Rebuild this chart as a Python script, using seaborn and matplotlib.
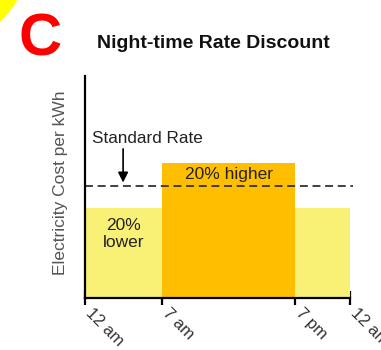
import matplotlib
matplotlib.use("Agg")
import matplotlib.pyplot as plt
from matplotlib.patches import Ellipse
import pandas as pd
import seaborn as sns

# Tariff periods over one day (hour edges) and relative cost per kWh
hour_edges = [0, 7, 19, 24]
period_names = ["night", "day", "evening"]
period_rates = [0.8, 1.2, 0.8]
period_kind = ["off-peak", "peak", "off-peak"]
standard_rate = 1.0
tick_hours = [0, 7, 19, 24]
tick_labels = ["12 am", "7 am", "7 pm", "12 am"]

sns.set_theme(style="white")
plt.rcParams["font.family"] = ["Liberation Sans", "DejaVu Sans"]

df = pd.DataFrame({
    "period": period_names,
    "mid": [(a + b) / 2 for a, b in zip(hour_edges[:-1], hour_edges[1:])],
    "rate": period_rates,
    "kind": period_kind,
})

W, H = 381, 350
fig = plt.figure(figsize=(W / 100, H / 100), dpi=100)
fig.patch.set_facecolor("white")

# Yellow disc peeking in from the top-left corner
r = 82.6
fig.patches.append(Ellipse((-55 / W, 1 + 40 / H), 2 * r / W, 2 * r / H,
                           transform=fig.transFigure, facecolor="#FFFF00",
                           edgecolor="none", figure=fig))

ax = fig.add_axes([85 / W, 1 - 298 / H, 268.3 / W, 222 / H])

sns.histplot(data=df, x="mid", weights="rate", bins=hour_edges, hue="kind",
             palette={"off-peak": "#F9F176", "peak": "#FFBF00"},
             multiple="layer", alpha=1, linewidth=0, legend=False, ax=ax)

ax.set_xlim(0, 24.3)
ax.set_ylim(0, 1.98)

# Standard rate reference line
ax.axhline(standard_rate, color="#333333", lw=1.3, ls=(0, (4.4, 2.6)), xmin=0, xmax=1)

ax.annotate("", xy=(3.45, 1.03), xytext=(3.45, 1.33),
            arrowprops=dict(arrowstyle="-|>", color="black", lw=1.2,
                            mutation_scale=15, shrinkA=0, shrinkB=0))
ax.text(0.6, 1.42, "Standard Rate", fontsize=12.3, color="#222222",
        ha="left", va="center")
ax.text(13, 1.10, "20% higher", fontsize=12.5, color="#222222",
        ha="center", va="center")
ax.text(3.5, 0.57, "20%\nlower", fontsize=12.5, color="#222222",
        ha="center", va="center", linespacing=1.1)

for side in ["top", "right"]:
    ax.spines[side].set_visible(False)
for side in ["left", "bottom"]:
    ax.spines[side].set_color("black")
    ax.spines[side].set_linewidth(1.6)
ax.spines["bottom"].set_bounds(0, 24)

ax.set_xticks(tick_hours)
ax.set_xticklabels(tick_labels, rotation=-45, ha="left", va="baseline",
                   rotation_mode="anchor", fontsize=12, color="#333333")
ax.tick_params(axis="x", direction="inout", length=10, width=1.6, color="black",
               bottom=True, pad=6.5)
ax.set_yticks([])
ax.set_xlabel("")
ax.set_ylabel("Electricity Cost per kWh", fontsize=12.5, color="#555555")
ax.yaxis.set_label_coords(-0.063, 0.52)
ax.set_facecolor("white")

fig.text(62 / W, 1 - 55 / H, "C", fontsize=43, fontweight="bold", color="#FF0000",
         ha="right", va="baseline")
fig.text(213 / W, 1 - 43 / H, "Night-time Rate Discount", fontsize=14,
         fontweight="bold", color="#111111", ha="center", va="center")

fig.savefig("out.png", dpi=100)
